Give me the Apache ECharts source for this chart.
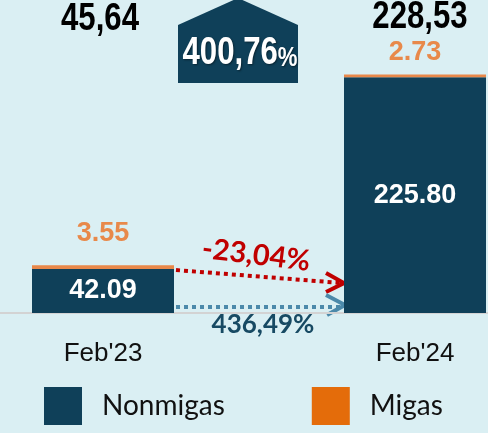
<!DOCTYPE html>
<html>
<head>
<meta charset="utf-8">
<style>
  html, body { margin: 0; padding: 0; background: #daeff3; }
  #chart { width: 488px; height: 433px; }
</style>
<script src="https://cdn.jsdelivr.net/npm/echarts@6/dist/echarts.min.js"></script>
</head>
<body>
<div id="chart"></div>
<script>
const categories = ["Feb'23", "Feb'24"];
const nonmigas = [42.09, 225.80];
const migas = [3.55, 2.73];
const growthTotal = '400,76';
const growthMigas = '-23,04%';
const growthNonmigas = '436,49%';

const sans = '"Liberation Sans", Arial, sans-serif';
const wide = 'Lato, "Open Sans", sans-serif';
const darkBlue = '#0f4059';
const orangeBar = '#e8884a';
const orangeKey = '#e46c0a';

// totals shown above the chart, comma as decimal mark like the source
const totals = nonmigas.map((v, i) => (v + migas[i]).toFixed(2).replace('.', ','));

const chart = echarts.init(document.getElementById('chart'));

chart.setOption({
  backgroundColor: '#daeff3',
  animation: false,
  grid: { left: -53, right: -83, top: 52, bottom: 120, containLabel: false, outerBoundsMode: 'none' },
  legend: {
    left: 44,
    top: 387,
    padding: 0,
    icon: 'rect',
    itemWidth: 38,
    itemHeight: 38,
    itemGap: 87,
    textStyle: { fontFamily: wide, fontSize: 28, color: '#111', padding: [0, 0, 0, 15] },
    data: ['Nonmigas', { name: 'Migas', itemStyle: { color: orangeKey } }]
  },
  xAxis: {
    type: 'category',
    data: categories,
    axisLine: { lineStyle: { color: '#d3d3d3', width: 2 } },
    axisTick: { length: 10, lineStyle: { color: '#d3d3d3', width: 2 } },
    axisLabel: { margin: 28, fontFamily: sans, fontSize: 26, color: '#111' }
  },
  yAxis: { type: 'value', min: 0, max: 250, show: false },
  series: [
    {
      name: 'Nonmigas',
      type: 'bar',
      stack: 'total',
      barWidth: 142,
      itemStyle: { color: darkBlue },
      label: {
        show: true,
        position: 'inside',
        fontFamily: sans,
        fontWeight: 'bold',
        fontSize: 27,
        color: '#fff',
        formatter: p => p.value.toFixed(2)
      },
      data: nonmigas
    },
    {
      name: 'Migas',
      type: 'bar',
      stack: 'total',
      barWidth: 142,
      itemStyle: { color: orangeBar },
      label: {
        show: true,
        position: 'top',
        distance: 8,
        fontFamily: sans,
        fontWeight: 'bold',
        fontSize: 27,
        color: '#e8894a',
        formatter: p => p.value.toFixed(2)
      },
      data: migas.map((v, i) => (i === 0 ? { value: v, label: { distance: 18 } } : v))
    }
  ]
});

// annotations: totals, growth arrows and the pentagon badge
const half = 71;
const x1 = chart.convertToPixel({ xAxisIndex: 0 }, categories[0]);
const x2 = chart.convertToPixel({ xAxisIndex: 0 }, categories[1]);
const yTop1 = chart.convertToPixel({ yAxisIndex: 0 }, nonmigas[0]);
const yBase = chart.convertToPixel({ yAxisIndex: 0 }, 0);

const redStart = [x1 + half + 2, yTop1 + 1];
const redEnd = [x2 - half - 2, yTop1 + 14];
const blueY = yBase - 6;

const narrowText = (text, x, y, size, color) => ({
  type: 'text',
  x: x,
  y: y,
  scaleX: 0.82,
  style: {
    text: text,
    align: 'center',
    verticalAlign: 'middle',
    fontFamily: sans,
    fontWeight: 'bold',
    fontSize: size,
    fill: color
  }
});

chart.setOption({
  graphic: [
    narrowText(totals[0], x1 - 3, 20, 38, '#000'),
    narrowText(totals[1], x2 + 5, 18, 38, '#000'),
    {
      type: 'polygon',
      shape: { points: [[178, 83], [178, 25], [238, -2], [298, 25], [298, 83]] },
      style: { fill: darkBlue }
    },
    {
      type: 'text',
      x: 240,
      y: 54,
      scaleX: 0.82,
      style: {
        text: '{a|' + growthTotal + '}{b|%}',
        align: 'center',
        verticalAlign: 'middle',
        rich: {
          a: { fontFamily: sans, fontWeight: 'bold', fontSize: 38, fill: '#fff' },
          b: { fontFamily: sans, fontWeight: 'bold', fontSize: 27, fill: '#fff', padding: [9, 0, 0, 0] }
        },
        textShadowColor: 'rgba(0,0,0,0.45)',
        textShadowBlur: 2,
        textShadowOffsetX: 1,
        textShadowOffsetY: 1
      }
    },
    {
      type: 'line',
      shape: { x1: redStart[0], y1: redStart[1], x2: redEnd[0], y2: redEnd[1] },
      style: { stroke: '#c00000', lineWidth: 4, lineDash: [4, 4] }
    },
    {
      type: 'polyline',
      shape: { points: [[redEnd[0] - 16, redEnd[1] - 10], [redEnd[0] + 2, redEnd[1]], [redEnd[0] - 16, redEnd[1] + 9]] },
      style: { stroke: '#c00000', lineWidth: 4, fill: null }
    },
    {
      type: 'line',
      shape: { x1: x1 + half + 2, y1: blueY, x2: x2 - half - 2, y2: blueY },
      style: { stroke: '#4b89aa', lineWidth: 4, lineDash: [4, 4] }
    },
    {
      type: 'polyline',
      shape: { points: [[x2 - half - 18, blueY - 12], [x2 - half + 1, blueY - 2], [x2 - half - 17, blueY + 8]] },
      style: { stroke: '#4b89aa', lineWidth: 4, fill: null }
    },
    {
      type: 'text',
      x: 256,
      y: 255,
      rotation: -0.12,
      style: {
        text: growthMigas,
        align: 'center',
        verticalAlign: 'middle',
        fontFamily: wide,
        fontWeight: 'bold',
        fontSize: 29,
        fill: '#c00000'
      }
    },
    {
      type: 'text',
      x: 263,
      y: 325,
      style: {
        text: growthNonmigas,
        align: 'center',
        verticalAlign: 'middle',
        fontFamily: wide,
        fontWeight: 'bold',
        fontSize: 26,
        fill: '#174a63'
      }
    }
  ]
});

window.addEventListener('resize', () => chart.resize());
</script>
</body>
</html>
